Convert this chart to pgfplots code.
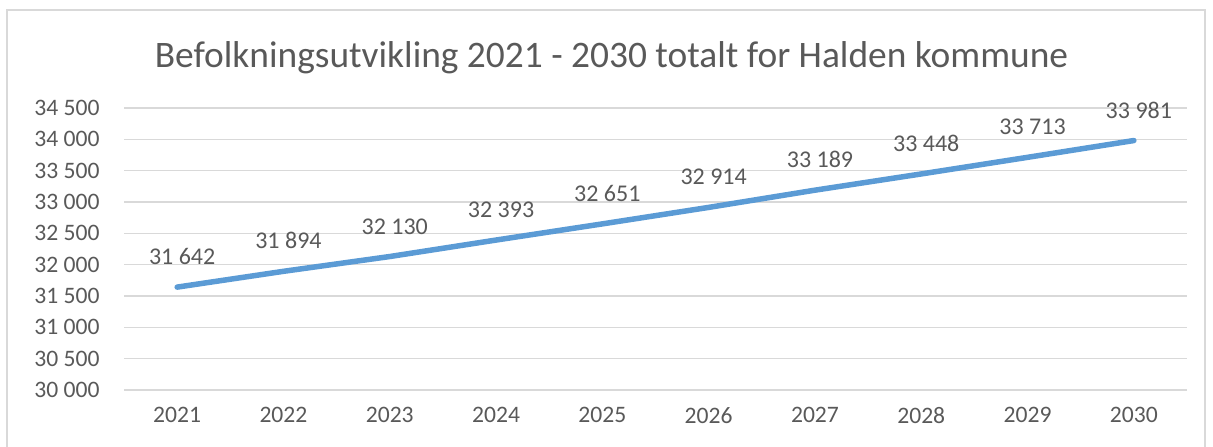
\documentclass[border=0pt]{standalone}
\usepackage{fontspec}
\setmainfont{Carlito}
\usepackage{pgfplots}
\pgfplotsset{compat=1.18}
\definecolor{txt}{HTML}{595959}
\definecolor{gridc}{HTML}{D9D9D9}
\definecolor{linec}{HTML}{5B9BD5}
\begin{document}
\begin{tikzpicture}
\path[use as bounding box] (0pt,0pt) rectangle (606.5pt,-223pt);
\draw[gridc, line width=0.75pt] (3.5pt,-240pt) -- (3.5pt,-5pt) -- (602.5pt,-5pt) -- (602.5pt,-240pt);
\node[txt, font=\fontsize{18.7}{22}\selectfont, anchor=base, inner sep=0pt] at (305.75pt,-33.5pt) {Befolkningsutvikling 2021 - 2030 totalt for Halden kommune};
\begin{axis}[
  at={(62pt,-195pt)}, anchor=south west,
  scale only axis, width=531.5pt, height=141pt,
  xmin=2020.5, xmax=2030.5, ymin=30000, ymax=34500,
  scaled y ticks=false, scaled x ticks=false,
  xtick={2021,2022,2023,2024,2025,2026,2027,2028,2029,2030},
  xticklabels={2021,2022,2023,2024,2025,2026,2027,2028,2029,2030},
  ytick={30000,30500,31000,31500,32000,32500,33000,33500,34000,34500},
  yticklabels={30 000,30 500,31 000,31 500,32 000,32 500,33 000,33 500,34 000,34 500},
  axis line style={draw=none},
  major tick length=0pt,
  ymajorgrids, grid style={gridc, line width=0.75pt},
  tick label style={txt, font=\fontsize{11.8}{14}\selectfont, inner sep=0pt},
  xticklabel style={anchor=north, yshift=-8.5pt},
  yticklabel style={anchor=east, xshift=-12pt},
  clip=false,
  nodes near coords,
  point meta=explicit symbolic,
  every node near coord/.append style={txt, font=\fontsize{12}{14}\selectfont, inner sep=0pt, anchor=base, yshift=11.25pt, xshift=2.5pt},
]
\addplot[linec, line width=2.75pt, line cap=round, line join=round, mark=none] coordinates {
  (2021,31642) [31 642]
  (2022,31894) [31 894]
  (2023,32130) [32 130]
  (2024,32393) [32 393]
  (2025,32651) [32 651]
  (2026,32914) [32 914]
  (2027,33189) [33 189]
  (2028,33448) [33 448]
  (2029,33713) [33 713]
  (2030,33981) [33 981]
};
\end{axis}
\end{tikzpicture}
\end{document}
